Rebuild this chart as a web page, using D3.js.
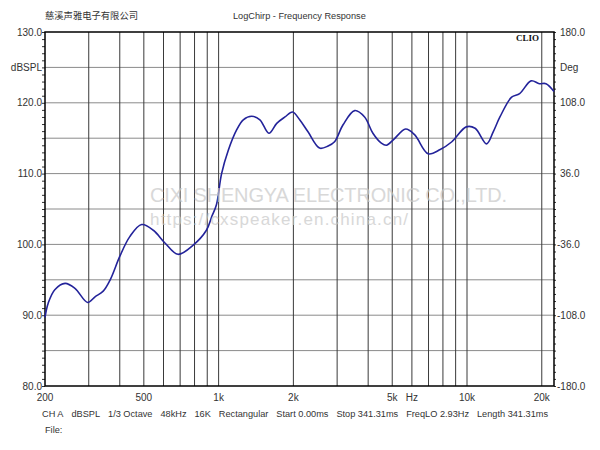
<!DOCTYPE html>
<html>
<head>
<meta charset="utf-8">
<script src="https://d3js.org/d3.v7.min.js"></script>
<style>
  body { margin: 0; background: #fff; }
  text { font-family: "Liberation Sans", Arial, sans-serif; }
</style>
</head>
<body>
<div id="my_dataviz"></div>
<script>

// frequency response (Hz, dBSPL)
var freqs = [200, 206, 219, 241, 264, 297, 318, 343, 366, 400, 439, 490, 546, 608, 686, 790, 893, 940, 980,
             1028, 1094, 1183, 1257, 1358, 1466, 1594, 1714, 1850, 1985, 2120, 2290, 2550, 2760, 2930, 3170,
             3530, 3870, 4180, 4520, 4740, 5060, 5660, 6150, 6980, 7800, 8690, 9930, 10780, 11990, 12750,
             13570, 15120, 16290, 18120, 19560, 20790, 22400];
var spl = [89.7, 91.7, 93.6, 94.5, 93.8, 91.8, 92.6, 93.4, 95.0, 98.3, 101.1, 102.8, 102.0, 100.2, 98.6, 99.9, 102.0, 104.0, 105.6,
           110.0, 113.3, 116.2, 117.6, 118.1, 117.6, 115.7, 117.1, 118.0, 118.7, 117.6, 115.9, 113.6, 113.9, 114.5, 116.9,
           118.9, 118.0, 115.7, 114.3, 114.0, 114.8, 116.3, 115.5, 112.8, 113.4, 114.5, 116.6, 116.4, 114.2, 115.9,
           118.0, 120.8, 121.3, 123.1, 122.7, 122.7, 121.6];

// grid lines and labels
var xGrid = [300, 400, 500, 600, 700, 800, 900, 1000, 2000, 3000, 4000, 5000, 6000, 7000, 8000, 9000, 10000, 20000];
var xLabelVals = [200, 500, 1000, 2000, 5000, 6000, 10000, 20000];
var xLabels = ["200", "500", "1k", "2k", "5k", "Hz", "10k", "20k"];
var yLabelVals = [130, 125, 120, 110, 100, 90, 80];
var yLabels = ["130.0", "dBSPL", "120.0", "110.0", "100.0", "90.0", "80.0"];
var degLabelVals = [180, 144, 108, 36, -36, -108, -180];
var degLabels = ["180.0", "Deg", "108.0", "36.0", "-36.0", "-108.0", "-180.0"];
var infoItems = ["CH A", "dBSPL", "1/3 Octave", "48kHz", "16K", "Rectangular", "Start 0.00ms", "Stop 341.31ms", "FreqLO 2.93Hz", "Length 341.31ms"];

var margin = {top: 32, right: 46, bottom: 64, left: 45},
  width = 600 - margin.left - margin.right,
  height = 450 - margin.top - margin.bottom;

var svg = d3.select("#my_dataviz")
.append("svg")
  .attr("width", 600)
  .attr("height", 450)
.append("g")
  .attr("transform", "translate(" + margin.left + "," + margin.top + ")");

var x = d3.scaleLog()
  .domain([200, 22400])
  .range([0, width]);

var y = d3.scaleLinear()
  .domain([80, 130])
  .range([height, 0]);

var yDeg = d3.scaleLinear()
  .domain([-180, 180])
  .range([height, 0]);

// horizontal grid (every 5 dB)
svg.append("g")
  .selectAll("line")
  .data(d3.range(85, 130, 5))
  .enter()
  .append("line")
    .attr("x1", 0).attr("x2", width)
    .attr("y1", function(d) { return y(d) })
    .attr("y2", function(d) { return y(d) })
    .style("stroke", "#8a8a8a")
    .style("stroke-width", 1);

// vertical grid
svg.append("g")
  .selectAll("line")
  .data(xGrid)
  .enter()
  .append("line")
    .attr("x1", function(d) { return x(d) })
    .attr("x2", function(d) { return x(d) })
    .attr("y1", 0).attr("y2", height)
    .style("stroke", "#3a3a3a")
    .style("stroke-width", 1);

// minor ticks left (1 dB) and right (7.2 deg)
svg.append("g")
  .call(d3.axisLeft(y).tickValues(d3.range(80, 131, 1)).tickSize(3).tickFormat(""))
  .call(function(g) { g.select(".domain").remove(); g.selectAll("line").style("stroke", "#333"); });

svg.append("g")
  .attr("transform", "translate(" + width + ",0)")
  .call(d3.axisRight(yDeg).tickValues(d3.range(0, 51).map(function(i) { return -180 + i * 7.2; })).tickSize(2).tickFormat(""))
  .call(function(g) { g.select(".domain").remove(); g.selectAll("line").style("stroke", "#333"); });

// tick labels
svg.append("g")
  .selectAll("text")
  .data(yLabelVals)
  .enter()
  .append("text")
    .attr("x", -3)
    .attr("y", function(d) { return y(d) })
    .attr("dy", "0.35em")
    .attr("text-anchor", "end")
    .style("font-size", "10px")
    .style("fill", "#333")
    .text(function(d, i) { return yLabels[i] });

svg.append("g")
  .selectAll("text")
  .data(degLabelVals)
  .enter()
  .append("text")
    .attr("x", function(d) { return d < 0 ? width + 3 : width + 6 })
    .attr("y", function(d) { return yDeg(d) })
    .attr("dy", "0.35em")
    .attr("text-anchor", "start")
    .style("font-size", "10px")
    .style("fill", "#333")
    .text(function(d, i) { return degLabels[i] });

svg.append("g")
  .selectAll("text")
  .data(xLabelVals)
  .enter()
  .append("text")
    .attr("x", function(d) { return x(d) })
    .attr("y", height + 15)
    .attr("text-anchor", "middle")
    .style("font-size", "10px")
    .style("fill", "#333")
    .text(function(d, i) { return xLabels[i] });

// frame
svg.append("rect")
  .attr("x", 0).attr("y", 0)
  .attr("width", width).attr("height", height)
  .style("fill", "none")
  .style("stroke", "#000")
  .style("stroke-width", 1.5);

// the response curve
svg.append("path")
  .datum(freqs.map(function(f, i) { return [f, spl[i]]; }))
  .attr("fill", "none")
  .attr("stroke", "#23239a")
  .attr("stroke-width", 1.6)
  .attr("d", d3.line()
    .curve(d3.curveCatmullRom.alpha(0.5))
    .x(function(d) { return x(d[0]) })
    .y(function(d) { return y(d[1]) })
  );

// CLIO mark
svg.append("text")
  .attr("x", width - 15)
  .attr("y", 9)
  .attr("text-anchor", "end")
  .style("font-family", "'Liberation Serif', 'DejaVu Serif', serif")
  .style("font-weight", "bold")
  .style("font-size", "9px")
  .style("fill", "#111")
  .text("CLIO");

// watermark
svg.append("text")
  .attr("x", 105)
  .attr("y", 170)
  .attr("textLength", 357)
  .style("font-size", "20px")
  .style("fill", "#c8c8c8")
  .style("opacity", 0.7)
  .text("CIXI SHENGYA ELECTRONIC CO.,LTD.");

svg.append("text")
  .attr("x", 105)
  .attr("y", 193)
  .attr("textLength", 258)
  .style("font-size", "17px")
  .style("fill", "#c8c8c8")
  .style("opacity", 0.7)
  .text("https://cxspeaker.en.china.cn/");

// titles
svg.append("text")
  .attr("x", 0)
  .attr("y", -13)
  .style("font-family", "'Noto Sans CJK SC', sans-serif")
  .style("font-size", "9.3px")
  .style("fill", "#333")
  .text("慈溪声雅电子有限公司");

svg.append("text")
  .attr("x", 188)
  .attr("y", -13)
  .style("font-size", "9.2px")
  .style("fill", "#333")
  .text("LogChirp - Frequency Response");

// info line under the plot: items laid out one after another, spread to the right end
var info = svg.append("g");
var infoTexts = info.selectAll("text")
  .data(infoItems)
  .enter()
  .append("text")
    .attr("y", height + 31)
    .style("font-size", "9.2px")
    .style("fill", "#333")
    .text(function(d) { return d });

var widths = [];
infoTexts.each(function() { widths.push(this.getComputedTextLength()); });
var startX = -3, endX = 503;
var gap = (endX - startX - d3.sum(widths)) / (infoItems.length - 1);
var cursor = startX;
infoTexts.attr("x", function(d, i) { var p = cursor; cursor += widths[i] + gap; return p; });

svg.append("text")
  .attr("x", 0)
  .attr("y", height + 47)
  .style("font-size", "9.2px")
  .style("fill", "#333")
  .text("File:");

</script>
</body>
</html>
